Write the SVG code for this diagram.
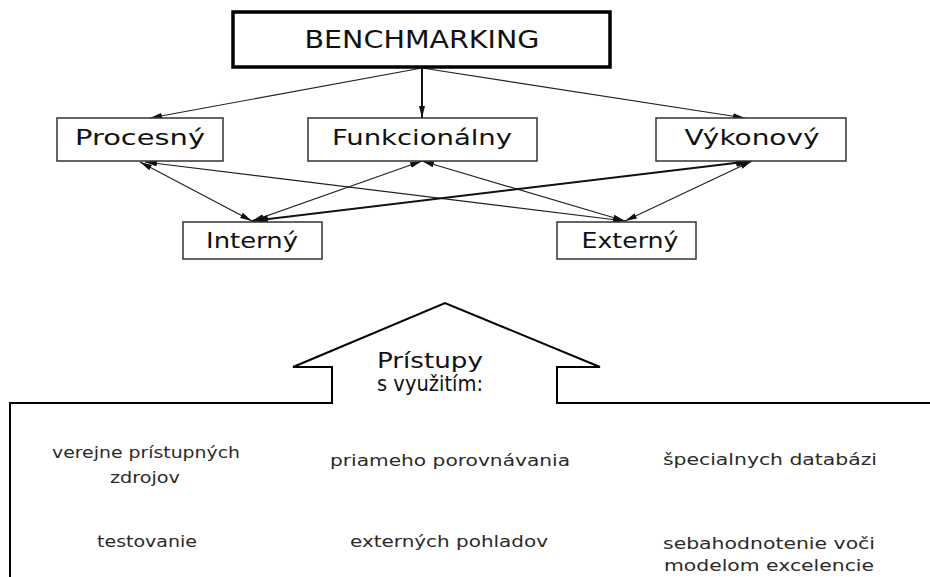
<svg xmlns="http://www.w3.org/2000/svg" width="930" height="577" viewBox="0 0 930 577">
<defs>
<marker id="ah" viewBox="0 0 12 6" refX="12" refY="3" markerWidth="12" markerHeight="6" markerUnits="userSpaceOnUse" orient="auto-start-reverse">
<path d="M0 0 L12 3 L0 6 Z" fill="#111"/>
</marker>
<marker id="ahb" viewBox="0 0 16 8" refX="16" refY="4" markerWidth="16" markerHeight="8" markerUnits="userSpaceOnUse" orient="auto-start-reverse">
<path d="M0 0 L16 4 L0 8 Z" fill="#111"/>
</marker>
<style>
.box{fill:#fff;stroke:#333;stroke-width:1.5}
.main{fill:#fff;stroke:#000;stroke-width:3.5}
.lbl{font-family:"DejaVu Sans","Liberation Sans",sans-serif;font-size:21px;fill:#111;text-anchor:middle}
.big{font-family:"DejaVu Sans","Liberation Sans",sans-serif;font-size:25px;fill:#111;text-anchor:middle}
.sm{font-family:"DejaVu Sans","Liberation Sans",sans-serif;font-size:16px;fill:#2a2a2a;text-anchor:middle}
.hs{font-family:"DejaVu Sans","Liberation Sans",sans-serif;font-size:22px;fill:#111}
.c{fill:none;stroke:#222;stroke-width:1.2}
.cb{fill:none;stroke:#111;stroke-width:2}
.frame{fill:none;stroke:#000;stroke-width:2}
</style>
</defs>
<rect width="930" height="577" fill="#fff"/>
<g id="connectors">
<line class="c" x1="422" y1="68" x2="150" y2="118" marker-end="url(#ah)"/>
<line class="cb" x1="422" y1="68" x2="422" y2="118" marker-end="url(#ah)"/>
<line class="c" x1="422" y1="68" x2="745" y2="118" marker-end="url(#ah)"/>
<line class="c" x1="140" y1="162" x2="252" y2="221" marker-start="url(#ah)" marker-end="url(#ah)"/>
<line class="c" x1="145" y1="162" x2="625" y2="221" marker-start="url(#ah)" marker-end="url(#ah)"/>
<line class="c" x1="422" y1="161" x2="252" y2="221" marker-start="url(#ah)" marker-end="url(#ah)"/>
<line class="c" x1="422" y1="161" x2="625" y2="221" marker-start="url(#ah)" marker-end="url(#ah)"/>
<line class="cb" x1="752" y1="161" x2="252" y2="221" marker-start="url(#ahb)" marker-end="url(#ahb)"/>
<line class="c" x1="752" y1="161" x2="625" y2="221" marker-start="url(#ah)" marker-end="url(#ah)"/>
</g>
<g id="benchmarking">
<rect class="main" x="233" y="12" width="377" height="55"/>
<text class="big" x="422" y="48" textLength="235" lengthAdjust="spacingAndGlyphs">BENCHMARKING</text>
</g>
<g id="procesny">
<rect class="box" x="57" y="118" width="166" height="43"/>
<text class="lbl" x="140" y="145" textLength="130" lengthAdjust="spacingAndGlyphs">Procesný</text>
</g>
<g id="funkcionalny">
<rect class="box" x="308" y="118" width="229" height="43"/>
<text class="lbl" x="422" y="145" textLength="180" lengthAdjust="spacingAndGlyphs">Funkcionálny</text>
</g>
<g id="vykonovy">
<rect class="box" x="656" y="118" width="190" height="43"/>
<text class="lbl" x="752" y="145" textLength="135" lengthAdjust="spacingAndGlyphs">Výkonový</text>
</g>
<g id="interny">
<rect class="box" x="183" y="222" width="139" height="37"/>
<text class="lbl" x="252" y="248" textLength="92" lengthAdjust="spacingAndGlyphs">Interný</text>
</g>
<g id="externy">
<rect class="box" x="557" y="222" width="139" height="37"/>
<text class="lbl" x="630" y="248" textLength="97" lengthAdjust="spacingAndGlyphs">Externý</text>
</g>
<g id="pristupy">
<path class="frame" d="M10 577 V403 H332 V367 H293 L445 303 L600 367 H557 V403 H930"/>
<text class="hs" x="377" y="368" textLength="106" lengthAdjust="spacingAndGlyphs">Prístupy</text>
<text class="hs" x="377" y="391" textLength="106" lengthAdjust="spacingAndGlyphs">s využitím:</text>
</g>
<g id="items">
<text class="sm" x="146" y="458" textLength="188" lengthAdjust="spacingAndGlyphs">verejne prístupných</text>
<text class="sm" x="145" y="483" textLength="70" lengthAdjust="spacingAndGlyphs">zdrojov</text>
<text class="sm" x="450" y="466" textLength="240" lengthAdjust="spacingAndGlyphs">priameho porovnávania</text>
<text class="sm" x="770" y="465" textLength="214" lengthAdjust="spacingAndGlyphs">špecialnych databázi</text>
<text class="sm" x="147" y="547" textLength="100" lengthAdjust="spacingAndGlyphs">testovanie</text>
<text class="sm" x="449" y="547" textLength="198" lengthAdjust="spacingAndGlyphs">externých pohladov</text>
<text class="sm" x="769" y="549" textLength="212" lengthAdjust="spacingAndGlyphs">sebahodnotenie voči</text>
<text class="sm" x="769" y="571" textLength="210" lengthAdjust="spacingAndGlyphs">modelom excelencie</text>
</g>
</svg>
